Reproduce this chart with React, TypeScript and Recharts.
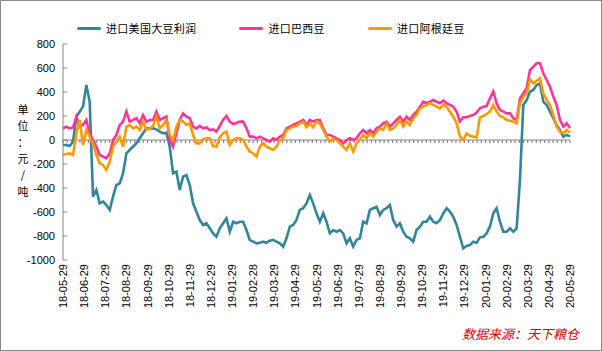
import React from "react";
import { LineChart, Line, XAxis, YAxis, ReferenceLine } from "recharts";

// 进口大豆压榨利润（元/吨），2018-05-29 ~ 2020-05-29，约每3个交易日取一点
const usMargin = [
  -42, -42, -50, -14, 194, 236, 278, 458, 319, -472,
  -417, -528, -514, -542, -583, -472, -375, -361, -278, -111,
  -83, -56, -28, 14, 56, 97, 97, 97, 89, 69,
  56, 61, -56, -278, -264, -417, -306, -292,
  -375, -528, -597, -667, -708, -694, -736, -778, -806, -736,
  -694, -653, -764, -681, -694, -681, -681, -750, -833, -847,
  -861, -856, -847, -856, -839, -833, -847, -861, -889, -819,
  -722, -708, -667, -583, -569, -528, -458, -528,
  -611, -681, -611, -681, -778, -750, -764, -750, -778, -861,
  -819, -889, -833, -819, -681, -694, -583, -569, -556, -625,
  -583, -569, -542, -667, -722, -694, -764, -806, -819, -847,
  -750, -722, -681, -681, -639, -681, -694, -667,
  -611, -569, -597, -639, -708, -806, -903, -883, -875, -847,
  -856, -811, -806, -778, -722, -611, -569, -681, -764, -764,
  -736, -764, -736, -333, 292, 333, 403, 417, 458, 472,
  319, 292, 236, 181, 125, 83, 28, 42, 30,
];

const brazilMargin = [
  97, 111, 97, 105, 194, 111, 125, 167, 56, 0,
  -56, -125, -139, -153, -111, 0, 42, 125, 153, 236,
  153, 167, 181, 139, 208, 153, 167, 167, 236, 167,
  181, 194, 0, -56, 56, 167, 222, 194,
  181, 111, 97, 117, 97, 105, 83, 89, 69, 117,
  167, 200, 153, 133, 142, 153, 153, 97, 28, 28,
  14, 28, 14, 0, -14, 14, 0, 28, 42, 97,
  111, 125, 139, 153, 167, 125, 167, 153,
  167, 167, 97, 42, 42, 28, 14, 0, -28, 0,
  14, 0, 14, 56, 83, 56, 83, 56, 97, 111,
  139, 153, 111, 139, 167, 194, 153, 194, 167, 208,
  236, 278, 319, 306, 319, 333, 319, 306,
  328, 306, 292, 278, 236, 153, 189, 189, 200, 208,
  228, 264, 278, 283, 347, 403, 306, 250, 236, 222,
  222, 181, 167, 347, 389, 431, 583, 611, 639, 639,
  556, 500, 444, 361, 292, 167, 111, 139, 100,
];

const argentinaMargin = [
  -125, -117, -111, -125, 56, 167, -42, 83, 28, -28,
  -125, -194, -208, -250, -181, -56, -14, 28, -56, 111,
  125, 97, 111, 83, 153, 83, 97, 117, 194, 97,
  125, 167, 42, 0, 111, 167, 153, 125,
  139, 42, -28, -28, 6, 14, 14, -50, -56, 22,
  56, 69, -42, 0, 14, 14, 0, -56, -97, -111,
  -139, -56, -28, -56, -69, -83, -56, 0, 14, 83,
  97, 111, 117, 139, 153, 106, 139, 106,
  153, 139, 83, 28, -14, 14, 0, -28, -56, -83,
  -28, -97, -28, 0, 42, 14, 56, 28, 69, 97,
  83, 139, 83, 97, 125, 167, 111, 153, 125, 181,
  208, 264, 278, 292, 306, 292, 278, 264,
  292, 278, 236, 194, 139, 28, 0, 56, 33, 28,
  22, 189, 200, 217, 236, 292, 236, 200, 189, 167,
  161, 153, 139, 306, 361, 389, 506, 472, 494, 514,
  389, 333, 292, 208, 111, 69, 56, 83, 60,
];

const tickLabels = [
  "18-05-29", "18-06-29", "18-07-29", "18-08-29", "18-09-29", "18-10-29",
  "18-11-29", "18-12-29", "19-01-29", "19-02-28", "19-03-29", "19-04-29",
  "19-05-29", "19-06-29", "19-07-29", "19-08-29", "19-09-29", "19-10-29",
  "19-11-29", "19-12-29", "20-01-29", "20-02-29", "20-03-29", "20-04-29",
  "20-05-29",
];

const yTicks = [-1000, -800, -600, -400, -200, 0, 200, 400, 600, 800];

const unitChars = ["单", "位", "：", "元", "/", "吨"];

const series = [
  { key: "us", name: "进口美国大豆利润", color: "#31859C" },
  { key: "br", name: "进口巴西豆", color: "#FF3399" },
  { key: "ar", name: "进口阿根廷豆", color: "#FF9900" },
];

const lastIdx = usMargin.length - 1;
const xTicks = tickLabels.map((_, k) => (k * lastIdx) / (tickLabels.length - 1));

const data = usMargin.map((v, i) => ({
  i,
  us: v,
  br: brazilMargin[i],
  ar: argentinaMargin[i],
}));

const AXIS_GRAY = "#868686";
const LATIN = "'Liberation Sans', Arial, sans-serif";
const CJK = "'Noto Sans CJK SC', sans-serif";

const XTick = (props: any) => {
  const { x, y, index } = props;
  return (
    <text
      x={x}
      y={y}
      transform={`rotate(-90, ${x}, ${y})`}
      textAnchor="end"
      dy={4}
      fontSize={11}
      fontFamily={LATIN}
      fill="#000"
    >
      {tickLabels[index]}
    </text>
  );
};

const YTick = (props: any) => {
  const { x, y, payload } = props;
  return (
    <g>
      <line x1={x + 8} x2={x + 12} y1={y} y2={y} stroke={AXIS_GRAY} />
      <text x={x} y={y} dy={4} textAnchor="end" fontSize={11} fontFamily={LATIN} fill="#000">
        {payload.value}
      </text>
    </g>
  );
};

// 零轴：灰线加细刻度
const ZeroAxis = (props: any) => {
  const { x1, x2, y1 } = props;
  const n = 120;
  let d = `M${x1},${y1}H${x2}`;
  for (let k = 0; k <= n; k++) {
    const tx = x1 + ((x2 - x1) * k) / n;
    d += `M${tx},${y1}v3`;
  }
  return <path d={d} stroke={AXIS_GRAY} strokeWidth={1.2} fill="none" />;
};

const UnitLabel = () => (
  <g>
    {unitChars.map((c, k) => (
      <text
        key={k}
        x={23}
        y={114 + k * 16.3}
        textAnchor="middle"
        fontSize={11}
        fontFamily={CJK}
        fill="#000"
      >
        {c}
      </text>
    ))}
  </g>
);

const LegendRow = () => (
  <div
    style={{
      position: "absolute",
      left: 76,
      top: 18,
      display: "flex",
      alignItems: "center",
      fontFamily: CJK,
      fontSize: 11,
      letterSpacing: 0.3,
      lineHeight: "18px",
      color: "#000",
    }}
  >
    {series.map((s, k) => (
      <div key={s.key} style={{ display: "flex", alignItems: "center", marginLeft: k === 0 ? 0 : 43 }}>
        <div style={{ width: 24, height: 3, borderRadius: 2, background: s.color, marginRight: 5 }} />
        <span>{s.name}</span>
      </div>
    ))}
  </div>
);

export default function App() {
  return (
    <div
      style={{
        position: "absolute",
        left: 0,
        top: 0,
        width: 602,
        height: 351,
        boxSizing: "border-box",
        border: "1px solid #8c8c8c",
        background: "#fff",
      }}
    >
      <div style={{ position: "absolute", left: -1, top: -1 }}>
        <LineChart width={602} height={351} data={data} margin={{ top: 44, right: 32, left: 0, bottom: 0 }}>
          <XAxis
            dataKey="i"
            type="number"
            domain={[0, lastIdx]}
            ticks={xTicks}
            interval={0}
            axisLine={false}
            tickLine={false}
            tickSize={2}
            tickMargin={2}
            height={91}
            tick={<XTick />}
          />
          <YAxis
            domain={[-1000, 800]}
            ticks={yTicks}
            interval={0}
            width={63}
            axisLine={{ stroke: AXIS_GRAY }}
            tickLine={false}
            tick={<YTick />}
            label={<UnitLabel />}
          />
          <ReferenceLine y={0} shape={<ZeroAxis />} />
          {series.map((s) => (
            <Line
              key={s.key}
              dataKey={s.key}
              name={s.name}
              type="linear"
              stroke={s.color}
              strokeWidth={2.6}
              dot={false}
              isAnimationActive={false}
            />
          ))}
        </LineChart>
      </div>
      <LegendRow />
      <div
        style={{
          position: "absolute",
          left: 461,
          top: 323,
          fontFamily: CJK,
          fontSize: 13,
          fontStyle: "italic",
          color: "#E00000",
          whiteSpace: "nowrap",
        }}
      >
        数据来源：天下粮仓
      </div>
    </div>
  );
}
